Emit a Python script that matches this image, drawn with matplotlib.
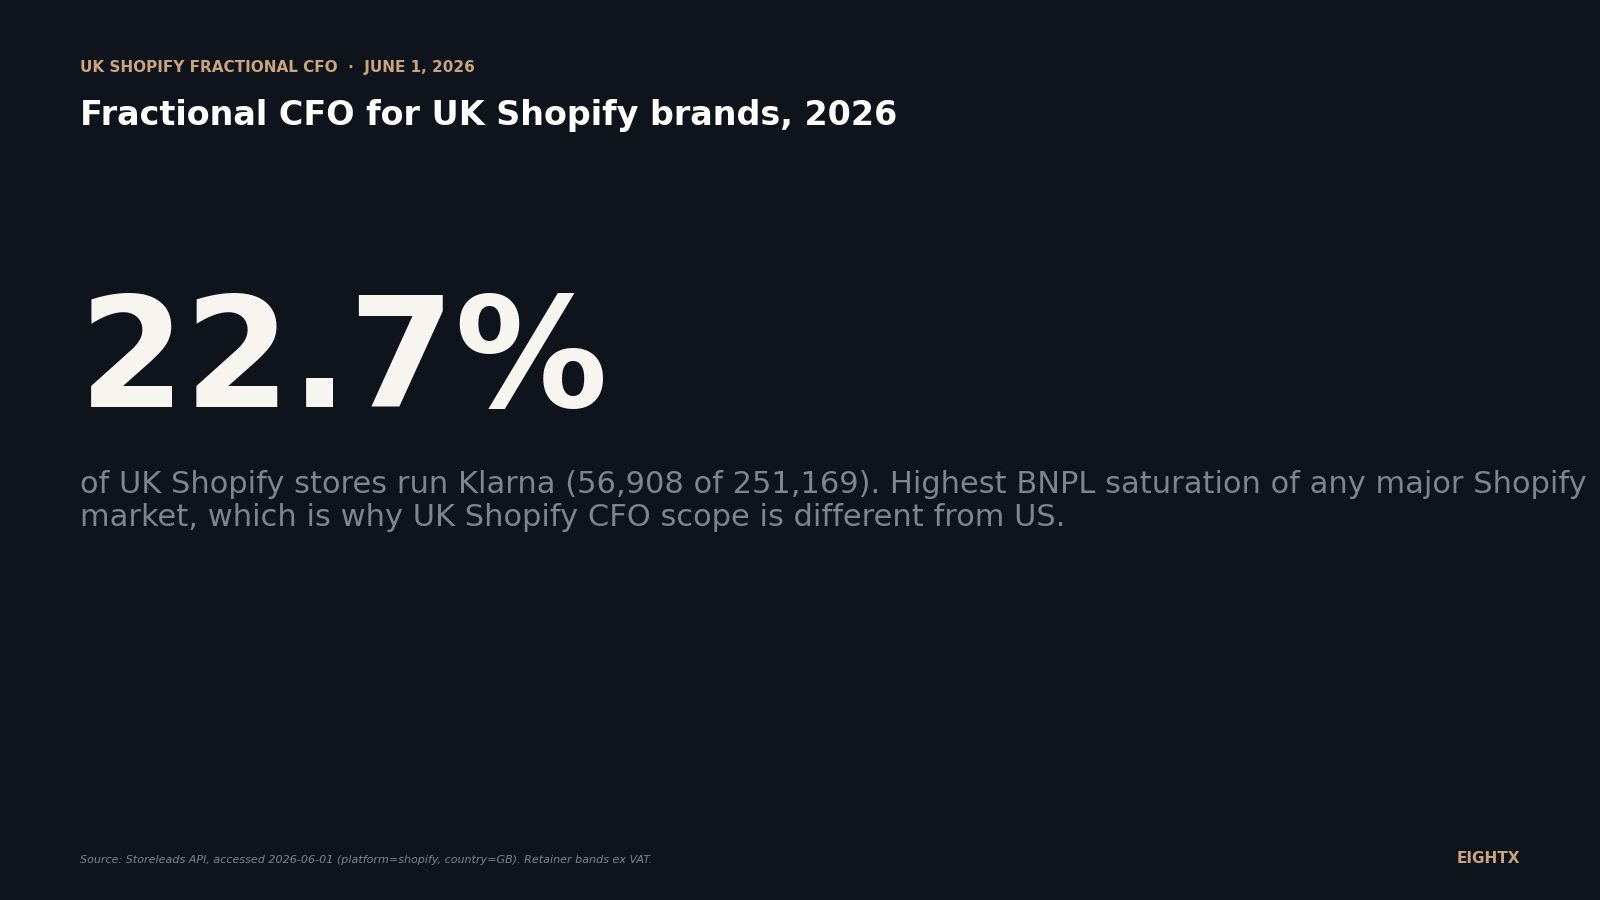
import matplotlib
matplotlib.use("Agg")
import matplotlib.pyplot as plt

kicker = "UK SHOPIFY FRACTIONAL CFO  ·  JUNE 1, 2026"
title = "Fractional CFO for UK Shopify brands, 2026"
headline_value = 22.7
stores_klarna = 56908
stores_total = 251169
source = "Source: Storeleads API, accessed 2026-06-01 (platform=shopify, country=GB). Retainer bands ex VAT."
brand = "EIGHTX"

BG = "#0f131b"
GOLD = "#c9a57e"
fig = plt.figure(figsize=(16, 9), dpi=100, facecolor=BG)

fig.text(0.05, 0.925, kicker, color=GOLD, fontsize=11, fontweight="bold", va="center")
fig.text(0.05, 0.872, title, color="white", fontsize=24, fontweight="bold", va="center")
fig.text(0.049, 0.595, f"{headline_value}%", color="#f7f5f0", fontsize=110,
         fontweight="bold", va="center")
sub = (f"of UK Shopify stores run Klarna ({stores_klarna:,} of {stores_total:,}). "
       "Highest BNPL saturation of any major Shopify\n"
       "market, which is why UK Shopify CFO scope is different from US.")
fig.text(0.05, 0.443, sub, color="#80848f", fontsize=22, va="center", linespacing=1.16)
fig.text(0.05, 0.044, source, color="#80848f", fontsize=8, style="italic", va="center")
fig.text(0.95, 0.046, brand, color=GOLD, fontsize=11, fontweight="bold", ha="right", va="center")

fig.savefig("out.png", dpi=100, facecolor=BG)
